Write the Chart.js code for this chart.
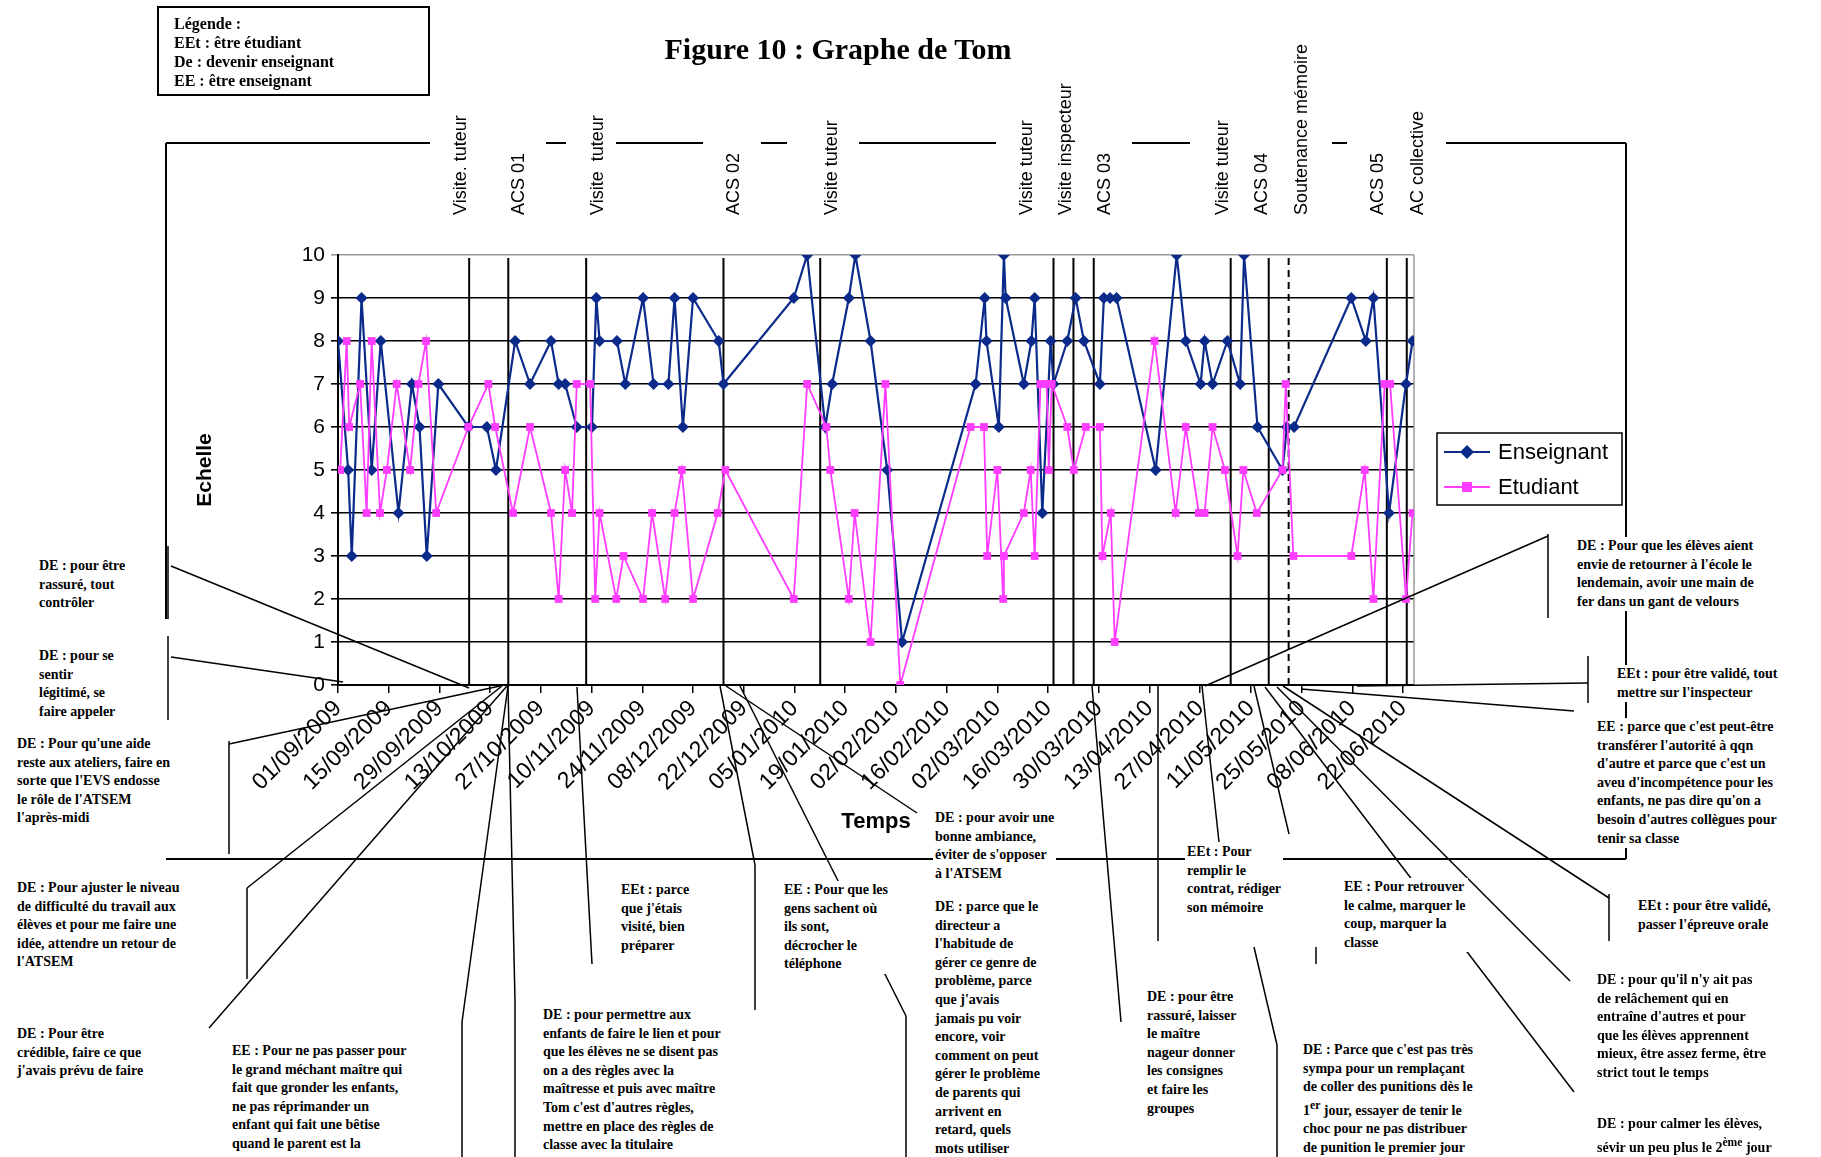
<!DOCTYPE html>
<html>
<head>
<meta charset="utf-8">
<script src="https://cdn.jsdelivr.net/npm/chart.js@4.4.1/dist/chart.umd.min.js"></script>
<style>
  html, body { margin: 0; padding: 0; background: #fff; }
  #page { position: relative; width: 1821px; height: 1157px; overflow: hidden; }
  canvas { position: absolute; left: 0; top: 0; }
  .note { position: absolute; font: bold 14px "Liberation Serif", serif; line-height: 18.6px; white-space: pre; background: #fff; color: #000; padding: 0 2px; }
  #titre { position: absolute; left: 0; width: 1676px; top: 32px; text-align: center; font: bold 30px "Liberation Serif", serif; }
  #legende { position: absolute; left: 157px; top: 6px; width: 273px; height: 90px; border: 2px solid #000; font: bold 16px "Liberation Serif", serif; line-height: 19px; padding: 6px 0 0 15px; box-sizing: border-box; }
</style>
</head>
<body>
<div id="page">
  <canvas id="graphe" width="1821" height="1157"></canvas>
  <div id="legende">Légende :<br>EEt : être étudiant<br>De : devenir enseignant<br>EE : être enseignant</div>
  <div id="titre">Figure 10 : Graphe de Tom</div>
</div>
<script>
// axe des dates (un repère toutes les deux semaines)
const etiquettesDates = ['01/09/2009', '15/09/2009', '29/09/2009', '13/10/2009', '27/10/2009', '10/11/2009',
  '24/11/2009', '08/12/2009', '22/12/2009', '05/01/2010', '19/01/2010', '02/02/2010', '16/02/2010',
  '02/03/2010', '16/03/2010', '30/03/2010', '13/04/2010', '27/04/2010', '11/05/2010', '25/05/2010',
  '08/06/2010', '22/06/2010'];

// jours depuis le 01/09/2009
const joursEnseignant = [0, 2.8, 3.8, 6.5, 9.3, 11.8, 16.7, 20.4, 22.5, 24.5, 27.7, 36.0, 41.1, 43.6, 48.9,
  53.0, 58.8, 60.9, 62.7, 65.9, 70.1, 71.3, 72.2, 77.0, 79.3, 84.2, 87.1, 91.2, 92.9, 95.2, 98.0, 105.1,
  106.4, 125.8, 129.5, 134.5, 136.4, 141.0, 142.8, 147.0, 151.6, 155.7, 176.0, 178.5, 179.0, 182.4, 183.8,
  184.3, 189.3, 191.4, 192.3, 194.4, 196.7, 197.5, 201.3, 203.6, 205.9, 210.3, 211.4, 213.1, 214.9, 225.7,
  231.5, 234.0, 238.1, 239.2, 241.4, 245.5, 249.0, 250.1, 253.8, 260.7, 261.9, 263.9, 279.7, 283.7, 285.8,
  290.1, 294.8, 296.6];
const enseignant = [8, 5, 3, 9, 5, 8, 4, 7, 6, 3, 7, 6, 6, 5, 8, 7, 8, 7, 7, 6, 6, 9, 8, 8, 7, 9, 7, 7, 9, 6,
  9, 8, 7, 9, 10, 6, 7, 9, 10, 8, 5, 1, 7, 9, 8, 6, 10, 9, 7, 8, 9, 4, 8, 7, 8, 9, 8, 7, 9, 9, 9, 5, 10, 8, 7,
  8, 7, 8, 7, 10, 6, 5, 6, 6, 9, 8, 9, 4, 7, 8];

const joursEtudiant = [0.6, 2.4, 3.1, 6.1, 7.9, 9.3, 11.6, 13.5, 16.2, 19.9, 22.2, 24.3, 27.1, 36.0, 41.5,
  43.4, 48.3, 53.0, 58.8, 60.9, 62.7, 64.6, 65.9, 69.6, 71.0, 72.2, 76.8, 78.8, 84.2, 86.7, 90.3, 92.9, 94.9,
  98.0, 104.8, 106.9, 125.8, 129.5, 134.8, 135.9, 141.0, 142.6, 147.0, 151.1, 155.2, 174.6, 178.3, 179.2,
  182.0, 183.6, 183.8, 189.3, 191.2, 192.3, 193.9, 195.6, 196.2, 197.0, 201.3, 203.1, 206.4, 210.3, 211.0,
  213.3, 214.4, 225.4, 231.2, 234.0, 237.6, 239.2, 241.4, 244.8, 248.3, 249.9, 253.6, 260.7, 261.6, 263.7,
  279.7, 283.4, 285.8, 288.9, 290.4, 294.8, 296.6];
const etudiant = [5, 8, 6, 7, 4, 8, 4, 5, 7, 5, 7, 8, 4, 6, 7, 6, 4, 6, 4, 2, 5, 4, 7, 7, 2, 4, 2, 3, 2, 4,
  2, 4, 5, 2, 4, 5, 2, 7, 6, 5, 2, 4, 1, 7, 0, 6, 6, 3, 5, 2, 3, 4, 5, 3, 7, 7, 5, 7, 6, 5, 6, 6, 3, 4, 1, 8,
  4, 6, 4, 4, 6, 5, 3, 5, 4, 5, 7, 3, 3, 5, 2, 7, 7, 2, 4];

// événements (traits verticaux)
const evenements = ['Visite. tuteur', 'ACS 01', 'Visite  tuteur', 'ACS 02', 'Visite tuteur', 'Visite tuteur',
  'Visite inspecteur', 'ACS 03', 'Visite tuteur', 'ACS 04', 'Soutenance mémoire', 'ACS 05', 'AC collective'];
const joursEvenements = [36.2, 47.0, 68.5, 106.4, 133.1, 197.5, 203.0, 208.6, 246.4, 256.9, 262.4, 289.5, 295.0];
const decalagesEvenements = [-8, 11, 12, 11, 12, -26, -7, 11, -8, -7, 13, -9, 11];
const evenementPointille = 'Soutenance mémoire';

// encadrés de commentaires : position, texte, traits de rappel
const notes = [
  { x: 37, y: 557, t: "DE : pour être\nrassuré, tout\ncontrôler", traits: [[168, 546, 168, 619], [171, 566, 469, 688]] },
  { x: 37, y: 647, t: "DE : pour se\nsentir\nlégitimé, se\nfaire appeler", traits: [[168, 636, 168, 720], [171, 657, 343, 682]] },
  { x: 15, y: 735, t: "DE : Pour qu'une aide\nreste aux ateliers, faire en\nsorte que l'EVS endosse\nle rôle de l'ATSEM\nl'après-midi", traits: [[229, 741, 229, 854], [229, 744, 500, 686]] },
  { x: 15, y: 879, t: "DE : Pour ajuster le niveau\nde difficulté du travail aux\nélèves et pour me faire une\nidée, attendre un retour de\nl'ATSEM", traits: [[247, 888, 247, 979], [247, 888, 502, 686]] },
  { x: 15, y: 1025, t: "DE : Pour être\ncrédible, faire ce que\nj'avais prévu de faire", traits: [[209, 1028, 507, 686]] },
  { x: 230, y: 1042, t: "EE : Pour ne pas passer pour\nle grand méchant maître qui\nfait que gronder les enfants,\nne pas réprimander un\nenfant qui fait une bêtise\nquand le parent est la", traits: [[462, 1022, 462, 1157], [462, 1022, 508, 686]] },
  { x: 541, y: 1006, t: "DE : pour permettre aux\nenfants de faire le lien et pour\nque les élèves ne se disent pas\non a des règles avec la\nmaîtresse et puis avec maître\nTom c'est d'autres règles,\nmettre en place des règles de\nclasse avec la titulaire", traits: [[515, 1001, 515, 1157], [515, 1001, 508, 686]] },
  { x: 619, y: 881, t: "EEt : parce\nque j'étais\nvisité, bien\npréparer", traits: [[577, 687, 592, 964]] },
  { x: 782, y: 881, t: "EE : Pour que les\ngens sachent où\nils sont,\ndécrocher le\ntéléphone", traits: [[720, 686, 755, 865], [755, 865, 755, 1010]] },
  { x: 933, y: 809, t: "DE : pour avoir une\nbonne ambiance,\néviter de s'opposer\nà l'ATSEM", traits: [[726, 686, 917, 813]] },
  { x: 933, y: 898, t: "DE : parce que le\ndirecteur a\nl'habitude de\ngérer ce genre de\nproblème, parce\nque j'avais\njamais pu voir\nencore, voir\ncomment on peut\ngérer le problème\nde parents qui\narrivent en\nretard, quels\nmots utiliser", traits: [[906, 1016, 906, 1157], [740, 686, 906, 1016]] },
  { x: 1185, y: 843, t: "EEt : Pour\nremplir le\ncontrat, rédiger\nson mémoire", traits: [[1202, 686, 1219, 842]] },
  { x: 1145, y: 988, t: "DE : pour être\nrassuré, laisser\nle maître\nnageur donner\nles consignes\net faire les\ngroupes", traits: [[1158, 686, 1158, 941], [1092, 686, 1121, 1022]] },
  { x: 1342, y: 878, t: "EE : Pour retrouver\nle calme, marquer le\ncoup, marquer la\nclasse", traits: [[1254, 686, 1289, 834], [1316, 947, 1316, 964]] },
  { x: 1301, y: 1041, t: "DE : Parce que c'est pas très\nsympa pour un remplaçant\nde coller des punitions dès le\n1<sup>er</sup> jour, essayer de tenir le\nchoc pour ne pas distribuer\nde punition le premier jour", traits: [[1254, 947, 1277, 1045], [1277, 1045, 1277, 1157]] },
  { x: 1575, y: 537, t: "DE : Pour que les élèves aient\nenvie de retourner à l'école le\nlendemain, avoir une main de\nfer dans un gant de velours", traits: [[1548, 534, 1548, 618], [1548, 536, 1205, 686]] },
  { x: 1615, y: 665, t: "EEt : pour être validé, tout\nmettre sur l'inspecteur", traits: [[1588, 656, 1588, 703], [1588, 683, 1357, 686]] },
  { x: 1595, y: 718, t: "EE : parce que c'est peut-être\ntransférer l'autorité à qqn\nd'autre et parce que c'est un\naveu d'incompétence pour les\nenfants, ne pas dire qu'on a\nbesoin d'autres collègues pour\ntenir sa classe", traits: [[1574, 711, 1301, 689]] },
  { x: 1636, y: 897, t: "EEt : pour être validé,\npasser l'épreuve orale", traits: [[1609, 894, 1609, 941], [1609, 898, 1283, 686]] },
  { x: 1595, y: 971, t: "DE : pour qu'il n'y ait pas\nde relâchement qui en\nentraîne d'autres et pour\nque les élèves apprennent\nmieux, être assez ferme, être\nstrict tout le temps", traits: [[1570, 981, 1277, 687]] },
  { x: 1595, y: 1115, t: "DE : pour calmer les élèves,\nsévir un peu plus le 2<sup>ème</sup> jour", traits: [[1574, 1092, 1265, 687]] }
];

// cadre autour du graphique
const cadre = [[166, 143, 430, 143], [546, 143, 566, 143], [616, 143, 703, 143], [761, 143, 787, 143],
  [859, 143, 996, 143], [1132, 143, 1190, 143], [1332, 143, 1347, 143], [1446, 143, 1626, 143],
  [166, 143, 166, 619], [1626, 143, 1626, 859], [166, 859, 1626, 859]];

const police = '"Liberation Sans", Arial, sans-serif';
const bleu = '#0b2a8a';
const rose = '#ff3cff';

const jourDe = (s) => {
  const [j, m, a] = s.split('/').map(Number);
  return Math.round((Date.UTC(a, m - 1, j) - Date.UTC(2009, 8, 1)) / 86400000);
};
const joursTicks = etiquettesDates.map(jourDe);

const page = document.getElementById('page');
notes.forEach(n => {
  const d = document.createElement('div');
  d.className = 'note';
  d.style.left = n.x + 'px';
  d.style.top = n.y + 'px';
  d.innerHTML = n.t.replace(/\n/g, '<br>');
  page.appendChild(d);
});

const decor = {
  id: 'decor',
  beforeDraw(chart) {
    const ctx = chart.ctx;
    ctx.save();
    ctx.fillStyle = '#fff';
    ctx.fillRect(0, 0, chart.width, chart.height);
    ctx.strokeStyle = '#000';
    ctx.lineWidth = 2;
    cadre.forEach(s => {
      ctx.beginPath(); ctx.moveTo(s[0], s[1]); ctx.lineTo(s[2], s[3]); ctx.stroke();
    });
    ctx.restore();
  },
  beforeDatasetsDraw(chart) {
    const { ctx, chartArea, scales: { x } } = chart;
    ctx.save();
    // bord droit de la zone de tracé
    ctx.strokeStyle = '#9a9a9a';
    ctx.lineWidth = 1.5;
    ctx.beginPath(); ctx.moveTo(chartArea.right, chartArea.top); ctx.lineTo(chartArea.right, chartArea.bottom); ctx.stroke();
    ctx.strokeStyle = '#000';
    ctx.lineWidth = 2;
    joursEvenements.forEach((j, i) => {
      const px = x.getPixelForValue(j);
      ctx.setLineDash(evenements[i] === evenementPointille ? [7, 5] : []);
      ctx.beginPath(); ctx.moveTo(px, chartArea.top + 3); ctx.lineTo(px, chartArea.bottom); ctx.stroke();
    });
    ctx.restore();
  },
  afterDraw(chart) {
    const { ctx, scales: { x } } = chart;
    ctx.save();
    // étiquettes des événements
    ctx.fillStyle = '#000';
    ctx.font = '18px ' + police;
    ctx.textAlign = 'left';
    ctx.textBaseline = 'middle';
    joursEvenements.forEach((j, i) => {
      ctx.save();
      ctx.translate(x.getPixelForValue(j) + decalagesEvenements[i], 215);
      ctx.rotate(-Math.PI / 2);
      ctx.fillText(evenements[i], 0, 0);
      ctx.restore();
    });
    // traits de rappel des commentaires
    ctx.strokeStyle = '#000';
    ctx.lineWidth = 1.5;
    notes.forEach(n => n.traits.forEach(t => {
      ctx.beginPath(); ctx.moveTo(t[0], t[1]); ctx.lineTo(t[2], t[3]); ctx.stroke();
    }));
    // légende des séries
    const lx = 1437, ly = 433, lw = 185, lh = 72;
    ctx.fillStyle = '#fff';
    ctx.fillRect(lx, ly, lw, lh);
    ctx.lineWidth = 1.5;
    ctx.strokeRect(lx, ly, lw, lh);
    ctx.font = '22px ' + police;
    chart.data.datasets.forEach((ds, i) => {
      const cy = ly + 19 + i * 35;
      ctx.strokeStyle = ds.borderColor;
      ctx.lineWidth = ds.borderWidth;
      ctx.beginPath(); ctx.moveTo(lx + 7, cy); ctx.lineTo(lx + 53, cy); ctx.stroke();
      ctx.fillStyle = ds.backgroundColor;
      ctx.beginPath();
      if (ds.pointStyle === 'rectRot') {
        ctx.moveTo(lx + 30, cy - 7); ctx.lineTo(lx + 37, cy); ctx.lineTo(lx + 30, cy + 7); ctx.lineTo(lx + 23, cy);
      } else {
        ctx.rect(lx + 25, cy - 5, 10, 10);
      }
      ctx.fill();
      ctx.fillStyle = '#000';
      ctx.fillText(ds.label, lx + 61, cy + 1);
    });
    ctx.restore();
  }
};

new Chart(document.getElementById('graphe'), {
  type: 'line',
  data: {
    datasets: [
      {
        label: 'Enseignant',
        data: joursEnseignant.map((j, i) => ({ x: j, y: enseignant[i] })),
        borderColor: bleu,
        backgroundColor: bleu,
        borderWidth: 2.2,
        pointStyle: 'rectRot',
        pointRadius: 6,
        pointBorderWidth: 0,
        order: 1
      },
      {
        label: 'Etudiant',
        data: joursEtudiant.map((j, i) => ({ x: j, y: etudiant[i] })),
        borderColor: rose,
        backgroundColor: rose,
        borderWidth: 1.8,
        pointStyle: 'rect',
        pointRadius: 5.5,
        pointBorderWidth: 0,
        order: 0
      }
    ]
  },
  options: {
    responsive: false,
    animation: false,
    devicePixelRatio: 1,
    layout: { padding: { left: 189, top: 255, right: 407, bottom: 318 } },
    plugins: { legend: { display: false }, tooltip: { enabled: false } },
    scales: {
      x: {
        type: 'linear',
        min: 0,
        max: 297,
        afterBuildTicks: (s) => { s.ticks = joursTicks.map(v => ({ value: v })); },
        afterFit: (s) => { s.height = 154; },
        ticks: {
          autoSkip: false,
          minRotation: 45,
          maxRotation: 45,
          color: '#000',
          font: { family: police, size: 23 },
          padding: 2,
          callback: (v, i) => etiquettesDates[i]
        },
        grid: { drawOnChartArea: false, color: '#000', tickLength: 8, lineWidth: 1.5 },
        border: { color: '#000', width: 2 },
        title: { display: true, text: 'Temps', color: '#000', font: { family: police, size: 22, weight: 'bold' }, padding: 4 }
      },
      y: {
        min: 0,
        max: 10,
        afterFit: (s) => { s.width = 149; },
        ticks: { stepSize: 1, color: '#000', font: { family: police, size: 21 }, padding: 6 },
        grid: {
          color: (c) => c.tick && c.tick.value === 10 ? '#9a9a9a' : '#000',
          lineWidth: 1.6,
          tickLength: 7
        },
        border: { color: '#000', width: 2 },
        title: { display: true, text: 'Echelle', color: '#000', font: { family: police, size: 21, weight: 'bold' }, padding: 4 }
      }
    }
  },
  plugins: [decor]
});
</script>
</body>
</html>
